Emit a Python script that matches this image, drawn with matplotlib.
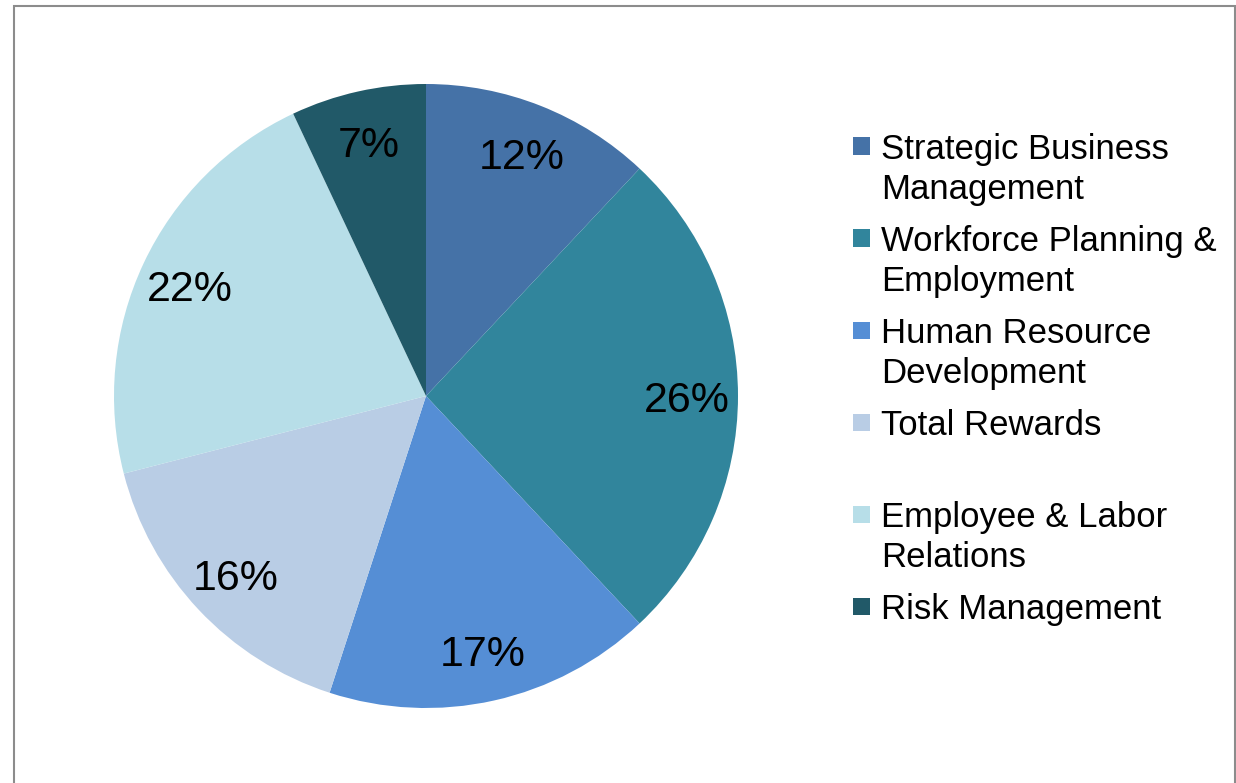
import matplotlib
matplotlib.use("Agg")
import matplotlib.pyplot as plt
from matplotlib.patches import Rectangle

plt.rcParams['font.family'] = ['Liberation Sans', 'DejaVu Sans']

categories = ['Strategic Business\nManagement',
              'Workforce Planning &\nEmployment',
              'Human Resource\nDevelopment',
              'Total Rewards',
              'Employee & Labor\nRelations',
              'Risk Management']
shares = [12, 26, 17, 16, 22, 7]
colors = ['#4572A7', '#31859C', '#558ED5', '#B9CDE5', '#B7DEE8', '#215968']

W, H = 1236, 783
fig = plt.figure(figsize=(W / 100, H / 100), dpi=100)

# -----------------------------------------------
# pie, centre (426, 396) px, radius 312 px
# -----------------------------------------------
cx, cy, r = 426, 396, 312
ax = fig.add_axes([(cx - r) / W, (H - cy - r) / H, 2 * r / W, 2 * r / H])
wedges, texts, autotexts = ax.pie(
    shares, colors=colors, startangle=90, counterclock=False,
    autopct='%d%%', pctdistance=0.835, radius=1,
    wedgeprops=dict(linewidth=0),
    textprops=dict(fontsize=31, color='black'))
for t in autotexts:
    t.set_va('center_baseline')
ax.set_xlim(-1, 1)
ax.set_ylim(-1, 1)
ax.set_aspect('equal')
ax.axis('off')

# -----------------------------------------------
# legend, drawn by hand so the marker sits on the first line
# -----------------------------------------------
for i, (lab, col) in enumerate(zip(categories, colors)):
    yc = 146 + 92 * i
    fig.patches.append(Rectangle((853 / W, 1 - (yc + 8.5) / H), 17 / W, 17 / H,
                                 transform=fig.transFigure, facecolor=col,
                                 edgecolor='none'))
    for k, line in enumerate(lab.split('\n')):
        fig.text(881 / W, 1 - (yc + 13 + 40 * k) / H, line, fontsize=25,
                 va='baseline', ha='left', color='black')

# outer frame
fig.patches.append(Rectangle((14 / W, -0.05), (1235 - 14) / W, 1.05 - 6 / H,
                             transform=fig.transFigure, facecolor='none',
                             edgecolor='#8c8c8c', linewidth=1.5))

fig.savefig('out.png', dpi=100)
